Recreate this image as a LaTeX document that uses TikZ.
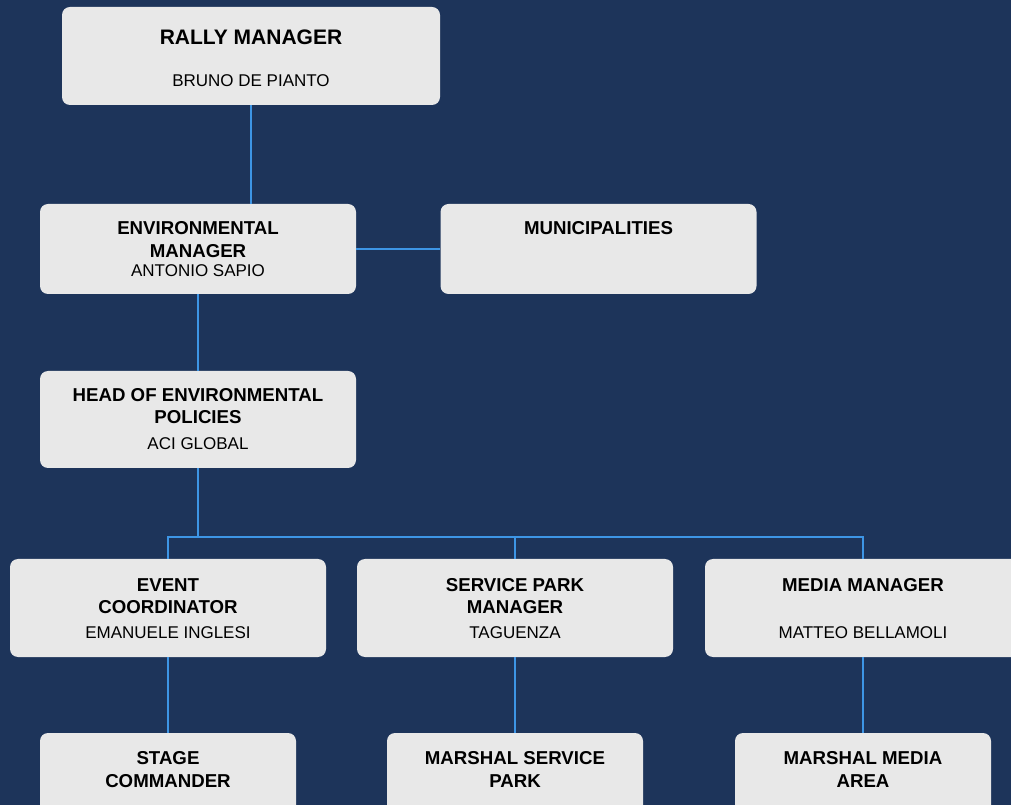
\documentclass[tikz,border=0pt]{standalone}
\usepackage{fontspec}
\setmainfont{Liberation Sans}
\definecolor{navy}{RGB}{29,52,90}
\definecolor{wireblue}{RGB}{61,149,229}
\definecolor{boxgray}{RGB}{232,232,232}
\tikzset{
  box/.style={fill=boxgray, rounded corners=6pt, inner sep=0pt, minimum width=237pt, minimum height=73.5pt},
  wide/.style={minimum width=283.5pt},
  flat/.style={minimum height=67.5pt},
  short/.style={minimum width=192pt},
  wire/.style={draw=wireblue, line width=1.3pt},
  role/.style={font=\bfseries\fontsize{14}{16.75}\selectfont, align=center, inner sep=0pt},
  person/.style={font=\fontsize{12.75}{15}\selectfont, inner sep=0pt}
}
\begin{document}
\begin{tikzpicture}[x=0.75pt,y=-0.75pt]
	\useasboundingbox (0,0) rectangle (1011,805);
	\fill[navy] (0,0) rectangle (1011,805);
	\clip (0,0) rectangle (1011,805);
	% boxes
	\node[box,wide] (rally) at (251,56) {};
	\node[box,flat] (env) at (198,249) {};
	\node[box,flat] (munic) at (598.5,249) {};
	\node[box,minimum height=72.75pt] (head) at (198,419.5) {};
	\node[box] (event) at (168,608) {};
	\node[box] (service) at (515,608) {};
	\node[box] (media) at (863,608) {};
	\node[box,short] (stage) at (168,782) {};
	\node[box,short] (mservice) at (515,782) {};
	\node[box,short] (mmedia) at (863,782) {};
	% texts
	\node[role,font=\bfseries\fontsize{15.75}{18}\selectfont] (rallyT) at (251,37) {RALLY MANAGER};
	\node[person] (rallyP) at (251,81) {BRUNO DE PIANTO};
	\node[role] (envT) at (198,239.5) {ENVIRONMENTAL\\MANAGER};
	\node[person] (envP) at (198,271) {ANTONIO SAPIO};
	\node[role] (municT) at (598.5,228) {MUNICIPALITIES};
	\node[role] (headT) at (198,406) {HEAD OF ENVIRONMENTAL\\POLICIES};
	\node[person] (headP) at (198,444) {ACI GLOBAL};
	\node[role] (eventT) at (168,596) {EVENT\\COORDINATOR};
	\node[person] (eventP) at (168,633) {EMANUELE INGLESI};
	\node[role] (serviceT) at (515,596) {SERVICE PARK\\MANAGER};
	\node[person] (serviceP) at (515,633) {TAGUENZA};
	\node[role] (mediaT) at (863,585) {MEDIA MANAGER};
	\node[person] (mediaP) at (863,633) {MATTEO BELLAMOLI};
	\node[role] (stageT) at (168,769.5) {STAGE\\COMMANDER};
	\node[role] (mserviceT) at (515,769.5) {MARSHAL SERVICE\\PARK};
	\node[role] (mmediaT) at (863,769.5) {MARSHAL MEDIA\\AREA};
	% connectors
	\coordinate (bus) at (198,537);
	\draw[wire] (rally.south) -- (rally.south |- env.north);
	\draw[wire] (env.east) -- (munic.west);
	\draw[wire] (env.south) -- (head.north);
	\draw[wire] (head.south) -- (bus);
	\draw[wire] (event.north) -- (event.north |- bus) -- (media.north |- bus) -- (media.north);
	\draw[wire] (service.north) -- (service.north |- bus);
	\draw[wire] (event.south) -- (stage.north);
	\draw[wire] (service.south) -- (mservice.north);
	\draw[wire] (media.south) -- (mmedia.north);
\end{tikzpicture}
\end{document}
